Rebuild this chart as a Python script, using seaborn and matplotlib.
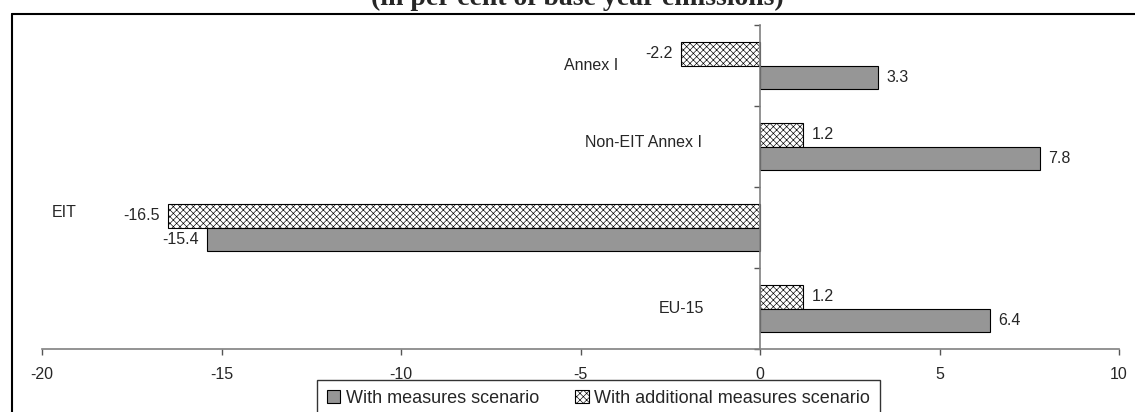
import matplotlib
matplotlib.use("Agg")
import matplotlib.pyplot as plt
import seaborn as sns
import pandas as pd
from matplotlib.patches import Patch
from matplotlib.lines import Line2D

categories = ["Annex I", "Non-EIT Annex I", "EIT", "EU-15"]
with_measures = [3.3, 7.8, -15.4, 6.4]
with_additional = [-2.2, 1.2, -16.5, 1.2]
series_names = ["With measures scenario", "With additional measures scenario"]
x_ticks = [-20, -15, -10, -5, 0, 5, 10]
title = "(in per cent of base year emissions)"

sns.set_theme(style="white")
plt.rcParams["font.family"] = ["Liberation Sans", "DejaVu Sans"]
plt.rcParams["hatch.linewidth"] = 0.45
plt.rcParams["hatch.color"] = "#333333"

df = pd.DataFrame({
    "category": categories * 2,
    "value": with_measures + with_additional,
    "series": [series_names[0]] * 4 + [series_names[1]] * 4,
})

W, H = 1135, 412
fig = plt.figure(figsize=(W / 100, H / 100), dpi=100)
ax = fig.add_axes([42 / W, 1 - 349 / H, (1119 - 42) / W, (349 - 25) / H])

gray = "#969696"
sns.barplot(data=df, y="category", x="value", hue="series", orient="h",
            order=categories, hue_order=[series_names[1], series_names[0]],
            palette={series_names[0]: gray, series_names[1]: "white"},
            width=0.57, edgecolor="black", linewidth=0.8, saturation=1,
            legend=False, ax=ax)

add_container, meas_container = ax.containers[0], ax.containers[1]
for p in add_container:
    p.set_hatch("xxxxx")

for c in ax.containers:
    ax.bar_label(c, fmt="%.1f", padding=6, fontsize=11.5)

ax.set_xlim(-20, 10)
ax.set_ylim(3.5, -0.5)
ax.set_xticks(x_ticks)
ax.set_xticklabels([str(t) for t in x_ticks], fontsize=11.5)
ax.set_yticks([-0.5, 0.5, 1.5, 2.5, 3.5])
ax.set_yticklabels([])
ax.set_xlabel("")
ax.set_ylabel("")
ax.tick_params(axis="x", direction="out", length=4, width=1, color="#555555", pad=9, bottom=True)
ax.tick_params(axis="y", direction="out", length=4, width=1, color="#555555", left=True)
ax.spines["top"].set_visible(False)
ax.spines["right"].set_visible(False)
ax.spines["left"].set_position(("data", 0))
for s in ("left", "bottom"):
    ax.spines[s].set_color("#808080")
    ax.spines[s].set_linewidth(1.2)
ax.patch.set_alpha(0)

# category labels (placed as in the original text boxes)
lab_fs = 11.5
ax.text(-3.96, 0.0, categories[0], ha="right", va="center", fontsize=lab_fs)
ax.text(-1.62, 0.95, categories[1], ha="right", va="center", fontsize=lab_fs)
ax.text(-19.72, 1.82, categories[2], ha="left", va="center", fontsize=lab_fs)
ax.text(-1.56, 3.0, categories[3], ha="right", va="center", fontsize=lab_fs)

# partially visible title
fig.text(577 / W, 1 - 5 / H, title, ha="center", va="baseline",
         fontsize=20, fontweight="bold", family=["Liberation Serif", "DejaVu Serif"])

# outer chart border
fig.add_artist(Line2D([12 / W, 1], [1 - 14 / H, 1 - 14 / H], color="black", lw=1.5))
fig.add_artist(Line2D([12 / W, 12 / W], [0, 1 - 14 / H], color="black", lw=1.5))

handles = [Patch(facecolor=gray, edgecolor="black", linewidth=0.8),
           Patch(facecolor="white", edgecolor="black", hatch="xxxxx", linewidth=0.8)]
leg = fig.legend(handles, series_names, loc="upper left",
                 bbox_to_anchor=(317 / W, 1 - 380 / H), ncol=2, fontsize=13,
                 frameon=True, fancybox=False, edgecolor="black",
                 handlelength=0.75, handleheight=0.75, handletextpad=0.3,
                 columnspacing=2.0, borderpad=0.55, borderaxespad=0)
leg.get_frame().set_linewidth(1)

fig.savefig("out.png", dpi=100)
